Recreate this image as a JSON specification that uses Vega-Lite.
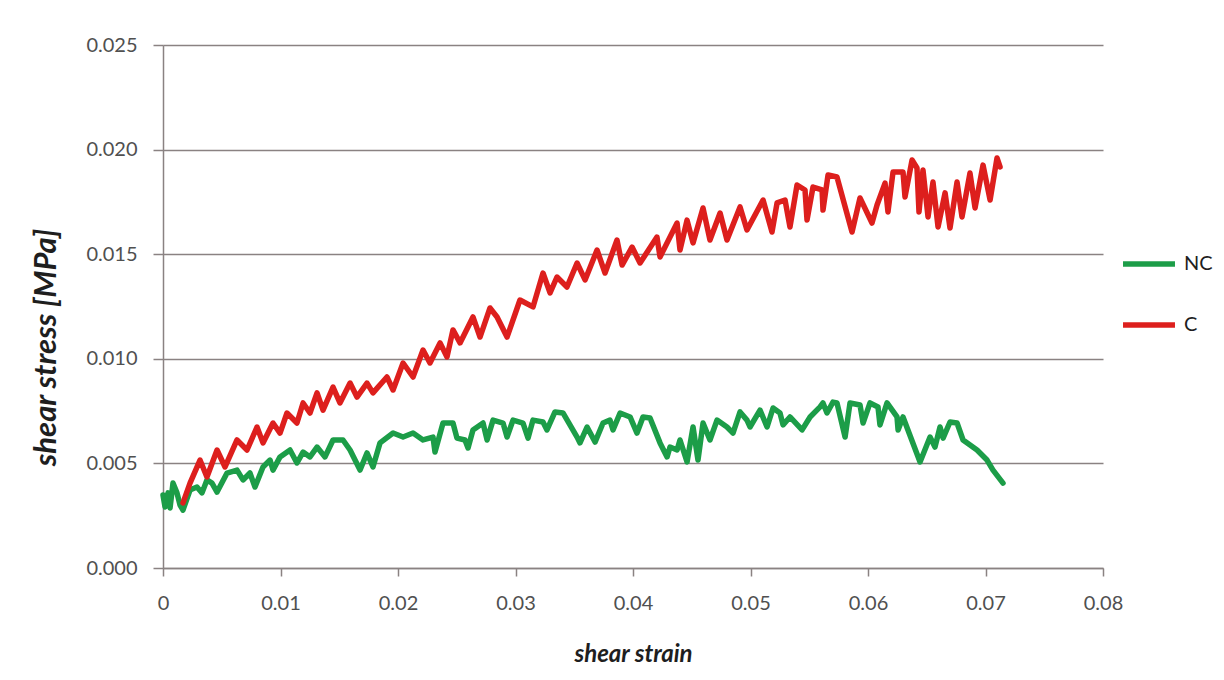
{
  "$schema": "https://vega.github.io/schema/vega-lite/v6.json",
  "width": 940,
  "height": 523,
  "autosize": {"type": "none"},
  "padding": {"left": 163, "top": 45, "right": 121, "bottom": 112},
  "background": "white",
  "config": {
    "font": "Lato",
    "view": {"stroke": null},
    "axis": {"labelFont": "Lato", "titleFont": "Lato"}
  },
  "datasets": {
    "NC": [
      [0, 0.00349], [0.00017, 0.00292], [0.00043, 0.00359], [0.0006, 0.00287], [0.00085, 0.00406], [0.00119, 0.00359], [0.00145, 0.00301], [0.0017, 0.00277], [0.0023, 0.00373], [0.00289, 0.00387], [0.00332, 0.00359], [0.00374, 0.00421], [0.00417, 0.00406], [0.0046, 0.00363], [0.00545, 0.00454], [0.0063, 0.00468], [0.00681, 0.00421], [0.0074, 0.00454], [0.00783, 0.00387], [0.00851, 0.00483], [0.00911, 0.00516], [0.00936, 0.00468], [0.00996, 0.00531], [0.01081, 0.00564], [0.0114, 0.00502], [0.01192, 0.00554], [0.01251, 0.00531], [0.01311, 0.00578], [0.01379, 0.00531], [0.01447, 0.00612], [0.01532, 0.00612], [0.01592, 0.00564], [0.01677, 0.00468], [0.01736, 0.0055], [0.01787, 0.00483], [0.01847, 0.00598], [0.01958, 0.00645], [0.02043, 0.00626], [0.02128, 0.00645], [0.02213, 0.00612], [0.02298, 0.00626], [0.02315, 0.00554], [0.02383, 0.00693], [0.02468, 0.00693], [0.02502, 0.00621], [0.0257, 0.00612], [0.02596, 0.00574], [0.02638, 0.0066], [0.02724, 0.00693], [0.02758, 0.00612], [0.02809, 0.00707], [0.02894, 0.00693], [0.02928, 0.00626], [0.02979, 0.00707], [0.03064, 0.00693], [0.03107, 0.00621], [0.03149, 0.00707], [0.03234, 0.00698], [0.03268, 0.0066], [0.03336, 0.00746], [0.03404, 0.00741], [0.03524, 0.00626], [0.03549, 0.00598], [0.03609, 0.00674], [0.03677, 0.00602], [0.03745, 0.00693], [0.03804, 0.00707], [0.0383, 0.0066], [0.0389, 0.00741], [0.03975, 0.00722], [0.04034, 0.00645], [0.04085, 0.00722], [0.04145, 0.00717], [0.0423, 0.00598], [0.0429, 0.00531], [0.04315, 0.00578], [0.04375, 0.00564], [0.044, 0.00612], [0.0446, 0.00507], [0.04511, 0.00674], [0.04553, 0.00516], [0.04596, 0.00693], [0.04655, 0.00612], [0.04715, 0.00707], [0.048, 0.00674], [0.04851, 0.00645], [0.04911, 0.00746], [0.0497, 0.00707], [0.04996, 0.00674], [0.05081, 0.00755], [0.05141, 0.00674], [0.05192, 0.00765], [0.05251, 0.00741], [0.05277, 0.00684], [0.05336, 0.00722], [0.05439, 0.0066], [0.05507, 0.00722], [0.05592, 0.0077], [0.05617, 0.00789], [0.05651, 0.00741], [0.05702, 0.00793], [0.05736, 0.00789], [0.05805, 0.00626], [0.05847, 0.00789], [0.05932, 0.00779], [0.05958, 0.00693], [0.06017, 0.00789], [0.06085, 0.0077], [0.06102, 0.00684], [0.06162, 0.00789], [0.06247, 0.00722], [0.06256, 0.0066], [0.06298, 0.00722], [0.06443, 0.00507], [0.06528, 0.00626], [0.0657, 0.00578], [0.06613, 0.00674], [0.06639, 0.00621], [0.06698, 0.00698], [0.06758, 0.00693], [0.06809, 0.00612], [0.06928, 0.00564], [0.07013, 0.00516], [0.07064, 0.00468], [0.07149, 0.00406]
    ],
    "C": [
      [0.0017, 0.00311], [0.0023, 0.00406], [0.00315, 0.00516], [0.00374, 0.00435], [0.0046, 0.00564], [0.00528, 0.00483], [0.0063, 0.00612], [0.00715, 0.00564], [0.008, 0.00674], [0.00851, 0.00598], [0.00936, 0.00693], [0.00996, 0.00645], [0.01055, 0.00741], [0.0114, 0.00693], [0.01192, 0.00789], [0.01251, 0.00741], [0.01311, 0.00837], [0.01362, 0.00755], [0.01447, 0.00865], [0.01506, 0.00789], [0.01592, 0.00884], [0.01651, 0.00817], [0.01736, 0.00884], [0.01787, 0.00837], [0.01906, 0.00913], [0.01958, 0.00851], [0.02043, 0.0098], [0.02128, 0.00913], [0.02213, 0.01042], [0.02272, 0.0098], [0.02358, 0.01076], [0.02417, 0.01009], [0.02468, 0.01138], [0.02528, 0.01076], [0.02638, 0.012], [0.02698, 0.01104], [0.02783, 0.01243], [0.02843, 0.012], [0.02928, 0.01104], [0.03038, 0.01281], [0.03149, 0.01248], [0.03234, 0.0141], [0.03294, 0.01315], [0.03353, 0.01391], [0.03438, 0.01343], [0.03524, 0.01458], [0.03592, 0.01377], [0.03694, 0.0152], [0.03762, 0.0141], [0.03864, 0.01568], [0.03907, 0.01448], [0.03992, 0.01534], [0.0406, 0.01458], [0.04204, 0.01582], [0.0423, 0.01487], [0.04375, 0.01649], [0.044, 0.0152], [0.0446, 0.01663], [0.04511, 0.01554], [0.04596, 0.01721], [0.04655, 0.01568], [0.04741, 0.01697], [0.048, 0.01568], [0.04911, 0.01726], [0.0497, 0.01616], [0.05107, 0.01759], [0.05183, 0.01606], [0.05226, 0.01745], [0.05294, 0.01759], [0.05336, 0.0163], [0.05396, 0.01831], [0.05464, 0.01807], [0.05481, 0.01663], [0.05532, 0.01821], [0.05609, 0.01807], [0.05617, 0.01711], [0.0566, 0.01879], [0.05736, 0.01869], [0.05864, 0.01606], [0.05932, 0.01769], [0.06034, 0.01649], [0.06077, 0.01735], [0.06145, 0.0184], [0.0617, 0.01702], [0.06213, 0.01893], [0.06298, 0.01893], [0.06315, 0.01773], [0.06375, 0.0195], [0.06417, 0.01912], [0.06434, 0.01702], [0.06468, 0.01902], [0.06511, 0.01678], [0.06553, 0.01845], [0.06596, 0.0163], [0.06656, 0.01793], [0.06698, 0.01625], [0.06758, 0.01845], [0.068, 0.01678], [0.06868, 0.01888], [0.06911, 0.01721], [0.06979, 0.01926], [0.07039, 0.01759], [0.07098, 0.0196], [0.07124, 0.01917]
    ]
  },
  "layer": [
    {
      "data": {"name": "NC"},
      "transform": [
        {"calculate": "datum[0]", "as": "strain"},
        {"calculate": "datum[1]", "as": "stress"},
        {"calculate": "'NC'", "as": "series"}
      ],
      "mark": {"type": "line", "strokeWidth": 5.5, "strokeJoin": "round", "strokeCap": "round"},
      "encoding": {
        "x": {"field": "strain", "type": "quantitative"},
        "y": {"field": "stress", "type": "quantitative"},
        "color": {"field": "series", "type": "nominal"}
      }
    },
    {
      "data": {"name": "C"},
      "transform": [
        {"calculate": "datum[0]", "as": "strain"},
        {"calculate": "datum[1]", "as": "stress"},
        {"calculate": "'C'", "as": "series"}
      ],
      "mark": {"type": "line", "strokeWidth": 5.5, "strokeJoin": "round", "strokeCap": "round"},
      "encoding": {
        "x": {
          "field": "strain", "type": "quantitative",
          "scale": {"domain": [0, 0.08], "nice": false, "zero": true},
          "axis": {
            "title": "shear strain", "values": [0, 0.01, 0.02, 0.03, 0.04, 0.05, 0.06, 0.07, 0.08], "format": "~g",
            "grid": false, "domainColor": "#8a8282", "domainWidth": 1.5, "tickColor": "#8a8282", "tickWidth": 1.5, "tickSize": 8,
            "labelFontSize": 20, "labelColor": "#505050", "labelPadding": 17, "labelFlush": false,
            "titleFontSize": 24, "titleFontStyle": "italic", "titleFontWeight": "bold", "titleColor": "#1e1e1e", "titlePadding": 29
          }
        },
        "y": {
          "field": "stress", "type": "quantitative",
          "scale": {"domain": [0, 0.025], "nice": false},
          "axis": {
            "title": "shear stress [MPa]", "values": [0, 0.005, 0.01, 0.015, 0.02, 0.025], "format": ".3f",
            "grid": true, "gridColor": "#8a8282", "gridWidth": 1.5, "gridOpacity": 1,
            "domainColor": "#8a8282", "domainWidth": 1.5, "tickColor": "#8a8282", "tickWidth": 1.5, "tickSize": 10,
            "labelFontSize": 20, "labelColor": "#505050", "labelPadding": 16,
            "titleFontSize": 31, "titleFontStyle": "italic", "titleFontWeight": "bold", "titleColor": "#1e1e1e",
            "titleAngle": 270, "titleX": -117, "titleY": 302, "titleAlign": "center", "titleBaseline": "middle"
          }
        },
        "color": {
          "field": "series", "type": "nominal",
          "scale": {"domain": ["NC", "C"], "range": ["#1c9d48", "#dd1f1d"]},
          "legend": {
            "title": null, "orient": "none", "legendX": 957, "legendY": 190,
            "symbolType": "stroke", "symbolSize": 2700, "symbolStrokeWidth": 5.5,
            "labelFontSize": 20, "labelColor": "#1e1e1e", "labelOffset": 6, "rowPadding": 21
          }
        }
      }
    }
  ]
}
